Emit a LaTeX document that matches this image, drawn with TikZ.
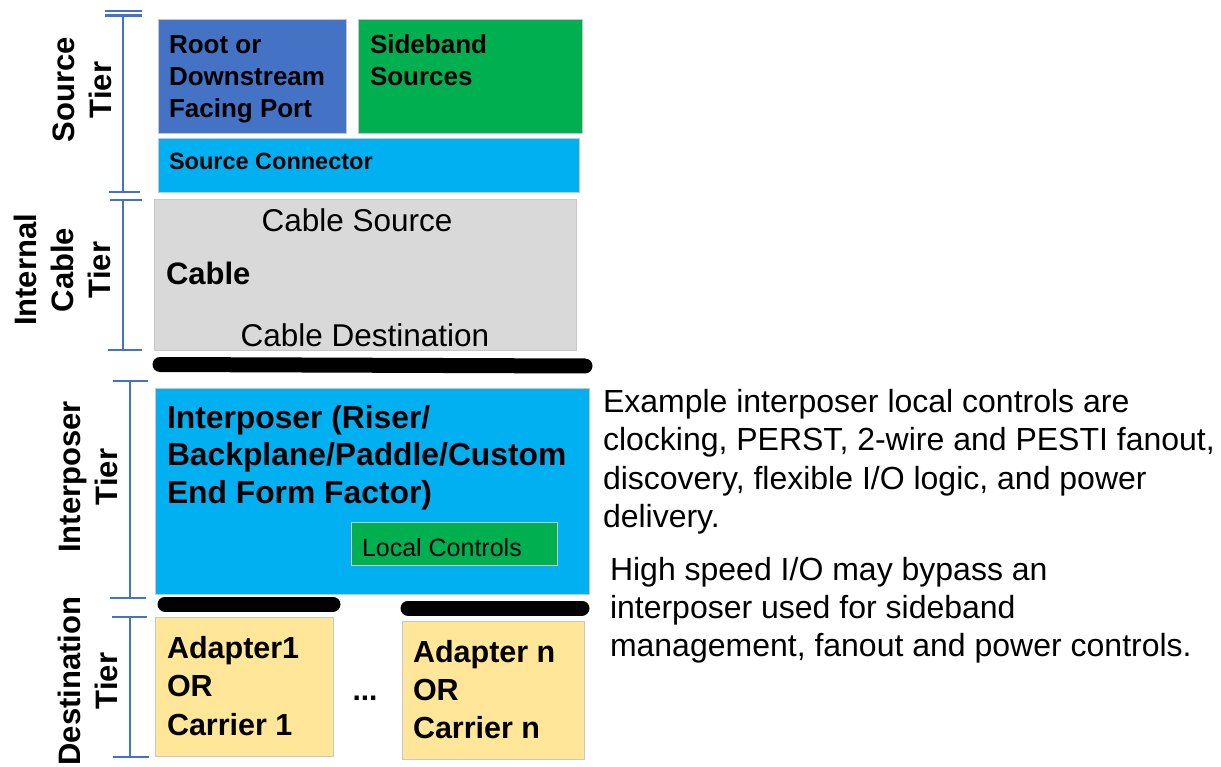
\documentclass[tikz,border=0pt]{standalone}
\usepackage{fontspec}
\setmainfont{Liberation Sans}
\usetikzlibrary{positioning}
\definecolor{rootblue}{HTML}{4472C4}
\definecolor{sidegreen}{HTML}{00B050}
\definecolor{conncyan}{HTML}{00B0F0}
\definecolor{cablegray}{HTML}{D9D9D9}
\definecolor{adaptyellow}{HTML}{FFE699}
\definecolor{tierblue}{HTML}{4472C4}

\begin{document}
\begin{tikzpicture}[
  x=1pt, y=-1pt,
  every node/.style={inner sep=0pt, outer sep=0pt},
  blk/.style={draw=black!22, line width=0.8pt, anchor=north west},
  boldtxt/.style={font=\fontsize{31}{37.5}\selectfont\bfseries, align=left, anchor=base west},
  plaintxt/.style={font=\fontsize{32}{38.5}\selectfont, align=left, anchor=base west},
  tier/.style={font=\fontsize{31}{37}\selectfont\bfseries, align=center, rotate=90},
  tierbar/.style={draw=tierblue, line width=2.8pt},
  seam/.style={line width=15pt, line cap=round}
]
\useasboundingbox (0,0) rectangle (1221,767);

\node[blk, fill=rootblue, minimum width=188pt, minimum height=114pt] (rdfp) at (158,19) {};
\node[blk, fill=sidegreen, minimum width=224pt, minimum height=114pt] (side) at (358,19) {};
\node[blk, fill=conncyan, minimum width=421pt, minimum height=54pt] (conn) at (158,138) {};
\node[blk, fill=cablegray, minimum width=422pt, minimum height=151pt] (cable) at (154,199) {};
\node[blk, fill=conncyan, minimum width=434pt, minimum height=206pt] (interp) at (155,388) {};
\node[blk, fill=sidegreen, minimum width=206pt, minimum height=43pt] (localc) at (351,522) {};
\node[blk, fill=adaptyellow, minimum width=178pt, minimum height=139pt] (ad1) at (155,617) {};
\node[blk, fill=adaptyellow, minimum width=182pt, minimum height=138pt] (adn) at (402,621) {};

\node[boldtxt, font=\fontsize{26}{32}\selectfont\bfseries] (rdfpT) at (169,118) {Root or\\Downstream\\Facing Port};
\node[boldtxt, font=\fontsize{26}{32}\selectfont\bfseries] (sideT) at (370,86) {Sideband\\Sources};
\node[boldtxt, font=\fontsize{23.5}{28}\selectfont\bfseries] (connT) at (169,170) {Source Connector};
\node[plaintxt, font=\fontsize{31.5}{37}\selectfont, anchor=base] (cableS) at (357,232) {Cable Source};
\node[boldtxt] (cableT) at (166,285) {Cable};
\node[plaintxt, font=\fontsize{31.5}{37}\selectfont, anchor=base] (cableD) at (365,346) {Cable Destination};
\node[boldtxt, font=\fontsize{31.8}{37.5}\selectfont\bfseries] (interpT) at (167,503) {Interposer (Riser/\\Backplane/Paddle/Custom\\End Form Factor)};
\node[plaintxt, font=\fontsize{25}{30}\selectfont] (localT) at (362,556) {Local Controls};
\node[boldtxt, font=\fontsize{30.5}{38.5}\selectfont\bfseries] (ad1T) at (167,735) {Adapter1\\OR\\Carrier 1};
\node[boldtxt, font=\fontsize{30.5}{38}\selectfont\bfseries] (adnT) at (413,738) {Adapter n\\OR\\Carrier n};
\node[boldtxt, font=\fontsize{30}{38}\selectfont\bfseries, anchor=base] (dots) at (365,700) {...};

\node[plaintxt] (noteA) at (603,527.5) {Example interposer local controls are\\clocking, PERST, 2-wire and PESTI fanout,\\discovery, flexible I/O logic, and power\\delivery.};
\node[plaintxt, font=\fontsize{32}{38}\selectfont] (noteB) at (610,656) {High speed I/O may bypass an\\interposer used for sideband\\management, fanout and power controls.};

\node[tier] (srcTier) at (82,90) {Source\\Tier};
\node[tier] (cblTier) at (62,270) {Internal\\Cable\\Tier};
\node[tier] (ipTier) at (88,477) {Interposer\\Tier};
\node[tier] (dstTier) at (88,681) {Destination\\Tier};

\draw[tierbar] (105,11) -- (142,11) (105,15.5) -- (142,15.5) (123,15) -- (123,192) (109,192) -- (140,192);
\draw[tierbar] (110,200) -- (142,200) (123,200) -- (123,350) (108,350) -- (142,350);
\draw[tierbar] (113,381) -- (148,381) (130,381) -- (130,598) (110,598) -- (146,598);
\draw[tierbar] (112,617) -- (147,617) (130,617) -- (130,757) (113,757) -- (149,757);

\draw[seam] (160,364.5) -- (585,366);
\draw[seam] (165,604) -- (333,604);
\draw[seam] (408,608) -- (582,608);
\end{tikzpicture}
\end{document}
